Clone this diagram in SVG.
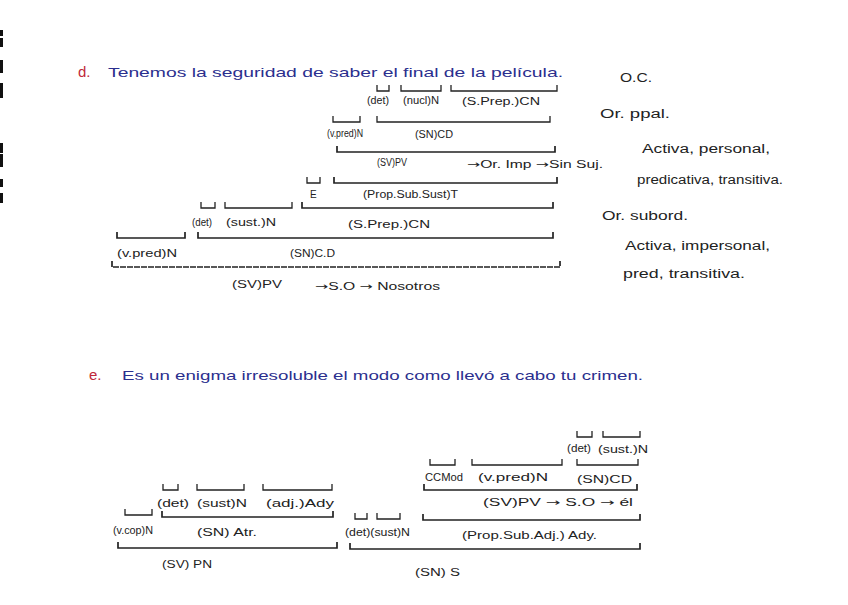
<svg xmlns="http://www.w3.org/2000/svg" width="848" height="605" viewBox="0 0 848 605">
<style>
text{font-family:"Liberation Sans","DejaVu Sans",sans-serif;}
.s{font-size:13px;fill:#2b2f8e;}
.r{font-size:15px;fill:#c0283a;}
.l{font-size:10px;fill:#222;}
.c{font-size:12px;fill:#222;}
.a{font-family:"DejaVu Sans",sans-serif;}
.b{fill:none;stroke:#222;stroke-width:1.3;}
.bb{fill:none;stroke:#222;stroke-width:1.7;}
.m{fill:#111;}
</style>
<rect width="848" height="605" fill="#ffffff"/>
<g id="edge-marks">
<rect class="m" x="0" y="30" width="3" height="6"/>
<rect class="m" x="0" y="38" width="3" height="9"/>
<rect class="m" x="0" y="60" width="3" height="13"/>
<rect class="m" x="0" y="83" width="3" height="15"/>
<rect class="m" x="0" y="143" width="3" height="10"/>
<rect class="m" x="0" y="154" width="3" height="13"/>
<rect class="m" x="0" y="179" width="3" height="8"/>
<rect class="m" x="0" y="193" width="3" height="10"/>
</g>

<!-- Section d -->
<g id="sentence-d">
<text class="r" x="78" y="77">d.</text>
<text class="s" x="108" y="77" textLength="455" lengthAdjust="spacingAndGlyphs">Tenemos la seguridad de saber el final de la película.</text>
</g>
<g id="connectors">
<path class="b" d="M377 85V91H389V85"/>
<path class="b" d="M401 85V91H441V85"/>
<path class="b" d="M451 85V91H557V85"/>
<path class="b" d="M333 116V122H360V116"/>
<path class="b" d="M377 116V122H550V116"/>
<path class="bb" d="M337 146V152H555V146"/>
<path class="b" d="M307 177V183H320V177"/>
<path class="bb" d="M334 177V183H557V177"/>
<path class="b" d="M201 202V208H215V202"/>
<path class="b" d="M225 202V208H292V202"/>
<path class="bb" d="M302 202V208H553V202"/>
<path class="bb" d="M117 232V238H185V232"/>
<path class="bb" d="M198 232V238H553V232"/>
<path class="bb" d="M112 261V267H560V261" stroke-dasharray="6 1"/>

<path class="b" d="M577 431V437H592V431"/>
<path class="b" d="M603 431V437H640V431"/>
<path class="b" d="M430 459V465H455V459"/>
<path class="b" d="M472 459V465H562V459"/>
<path class="b" d="M577 459V465H638V459"/>
<path class="bb" d="M424 484V490H637V484"/>
<path class="b" d="M163 484V490H178V484"/>
<path class="b" d="M197 484V490H244V484"/>
<path class="b" d="M263 484V490H332V484"/>
<path class="b" d="M125 509V515H152V509"/>
<path class="bb" d="M162 511V517H333V511"/>
<path class="b" d="M355 513V519H367V513"/>
<path class="b" d="M377 513V519H400V513"/>
<path class="bb" d="M423 514V520H640V514"/>
<path class="bb" d="M118 542V548H337V542"/>
<path class="bb" d="M350 543V549H640V543"/>
</g>

<g id="d-row1">
<text class="l" x="367" y="104" textLength="22" lengthAdjust="spacingAndGlyphs">(det)</text>
<text class="l" x="403" y="104" textLength="36" lengthAdjust="spacingAndGlyphs">(nucl)N</text>
<text class="l" x="462" y="105" textLength="78" lengthAdjust="spacingAndGlyphs">(S.Prep.)CN</text>
</g>
<g id="d-row2">
<text class="l" x="327" y="137" textLength="36" lengthAdjust="spacingAndGlyphs">(v.pred)N</text>
<text class="l" x="415" y="138" textLength="38" lengthAdjust="spacingAndGlyphs">(SN)CD</text>
</g>
<g id="d-row3">
<text class="l" x="377" y="166" textLength="30" lengthAdjust="spacingAndGlyphs">(SV)PV</text>
<text class="l" x="467" y="168" textLength="136" lengthAdjust="spacingAndGlyphs"><tspan class="a">→</tspan>Or. Imp <tspan class="a">→</tspan>Sin Suj.</text>
</g>
<g id="d-row4">
<text class="l" x="310" y="198">E</text>
<text class="l" x="363" y="198" textLength="95" lengthAdjust="spacingAndGlyphs">(Prop.Sub.Sust)T</text>
</g>
<g id="d-row5">
<text class="l" x="192" y="226" textLength="20" lengthAdjust="spacingAndGlyphs">(det)</text>
<text class="l" x="226" y="226" textLength="50" lengthAdjust="spacingAndGlyphs">(sust.)N</text>
<text class="l" x="348" y="228" textLength="82" lengthAdjust="spacingAndGlyphs">(S.Prep.)CN</text>
</g>
<g id="d-row6">
<text class="l" x="117" y="257" textLength="60" lengthAdjust="spacingAndGlyphs">(v.pred)N</text>
<text class="l" x="290" y="257" textLength="45" lengthAdjust="spacingAndGlyphs">(SN)C.D</text>
</g>
<g id="d-row7">
<text class="l" x="232" y="288" textLength="50" lengthAdjust="spacingAndGlyphs">(SV)PV</text>
<text class="l" x="315" y="290" textLength="125" lengthAdjust="spacingAndGlyphs"><tspan class="a">→</tspan>S.O <tspan class="a">→</tspan> Nosotros</text>
</g>
<g id="d-notes">
<text class="c" x="620" y="82" textLength="32" lengthAdjust="spacingAndGlyphs">O.C.</text>
<text class="c" x="600" y="118" textLength="70" lengthAdjust="spacingAndGlyphs">Or. ppal.</text>
<text class="c" x="642" y="153" textLength="128" lengthAdjust="spacingAndGlyphs">Activa, personal,</text>
<text class="c" x="637" y="184" textLength="146" lengthAdjust="spacingAndGlyphs">predicativa, transitiva.</text>
<text class="c" x="602" y="220" textLength="86" lengthAdjust="spacingAndGlyphs">Or. subord.</text>
<text class="c" x="625" y="250" textLength="145" lengthAdjust="spacingAndGlyphs">Activa, impersonal,</text>
<text class="c" x="623" y="278" textLength="122" lengthAdjust="spacingAndGlyphs">pred, transitiva.</text>
</g>

<!-- Section e -->
<g id="sentence-e">
<text class="r" x="89" y="380">e.</text>
<text class="s" x="122" y="380" textLength="521" lengthAdjust="spacingAndGlyphs">Es un enigma irresoluble el modo como llevó a cabo tu crimen.</text>
</g>
<g id="e-row1">
<text class="l" x="567" y="452" textLength="24" lengthAdjust="spacingAndGlyphs">(det)</text>
<text class="l" x="598" y="453" textLength="50" lengthAdjust="spacingAndGlyphs">(sust.)N</text>
</g>
<g id="e-row2">
<text class="l" x="425" y="481" textLength="38" lengthAdjust="spacingAndGlyphs">CCMod</text>
<text class="l" x="478" y="481" textLength="70" lengthAdjust="spacingAndGlyphs">(v.pred)N</text>
<text class="l" x="577" y="483" textLength="55" lengthAdjust="spacingAndGlyphs">(SN)CD</text>
</g>
<g id="e-row3">
<text class="l" x="483" y="506" textLength="150" lengthAdjust="spacingAndGlyphs">(SV)PV <tspan class="a">→</tspan> S.O <tspan class="a">→</tspan> él</text>
</g>
<g id="e-left1">
<text class="l" x="157" y="507" textLength="32" lengthAdjust="spacingAndGlyphs">(det)</text>
<text class="l" x="197" y="507" textLength="50" lengthAdjust="spacingAndGlyphs">(sust)N</text>
<text class="l" x="266" y="507" textLength="68" lengthAdjust="spacingAndGlyphs">(adj.)Ady</text>
</g>
<g id="e-left2">
<text class="l" x="113" y="534" textLength="40" lengthAdjust="spacingAndGlyphs">(v.cop)N</text>
<text class="l" x="197" y="536" textLength="60" lengthAdjust="spacingAndGlyphs">(SN) Atr.</text>
<text class="l" x="345" y="536" textLength="65" lengthAdjust="spacingAndGlyphs">(det)(sust)N</text>
</g>
<g id="e-row4">
<text class="l" x="462" y="539" textLength="135" lengthAdjust="spacingAndGlyphs">(Prop.Sub.Adj.) Ady.</text>
</g>
<g id="e-row5">
<text class="l" x="162" y="568" textLength="50" lengthAdjust="spacingAndGlyphs">(SV) PN</text>
<text class="l" x="415" y="576" textLength="45" lengthAdjust="spacingAndGlyphs">(SN) S</text>
</g>
</svg>
